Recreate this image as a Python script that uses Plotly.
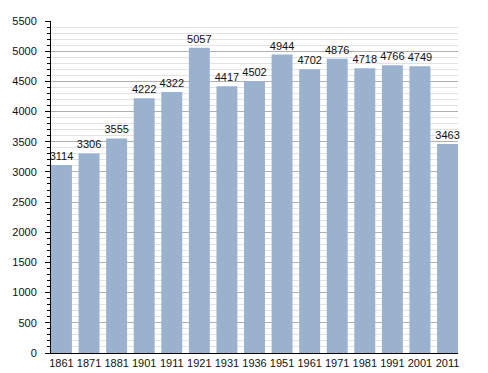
import plotly.graph_objects as go

years = ["1861", "1871", "1881", "1901", "1911", "1921", "1931", "1936",
         "1951", "1961", "1971", "1981", "1991", "2001", "2011"]
population = [3114, 3306, 3555, 4222, 4322, 5057, 4417, 4502,
              4944, 4702, 4876, 4718, 4766, 4749, 3463]
y_ticks = list(range(0, 5501, 500))

gap = 0.24
fig = go.Figure(go.Bar(
    x=years, y=population,
    marker=dict(color="rgb(155,178,206)", line=dict(width=0)),
    text=[str(v) for v in population], textposition="outside",
    textfont=dict(family="Liberation Sans, Arial, sans-serif", size=11, color="#111"),
    constraintext="none", cliponaxis=False,
))
# the page body has an 8px margin, so the figure starts at (8, 8)
fig.update_layout(
    width=480, height=365,
    margin=dict(l=43, r=30, t=13, b=20, autoexpand=False),
    plot_bgcolor="white", paper_bgcolor="white",
    bargap=gap, showlegend=False,
    font=dict(family="Liberation Sans, Arial, sans-serif", size=11, color="#111"),
)
fig.update_xaxes(
    type="category", range=[-(1 - gap) / 2, 14 + (1 - gap) / 2], automargin=False,
    showline=True, linecolor="black", linewidth=1, ticks="", showgrid=False,
    tickfont=dict(size=11),
)
fig.update_yaxes(
    range=[0, 5500], tickvals=y_ticks, automargin=False,
    showline=True, linecolor="black", linewidth=1,
    ticks="outside", ticklen=5, tickcolor="black", ticklabelstandoff=6,
    showgrid=True, gridcolor="#b0b0b0", gridwidth=1, zeroline=False,
    minor=dict(dtick=100, showgrid=True, gridcolor="#e2e2e2", ticks="outside",
               ticklen=3, tickcolor="black"),
    tickfont=dict(size=11),
)
fig.write_html("out.html")
